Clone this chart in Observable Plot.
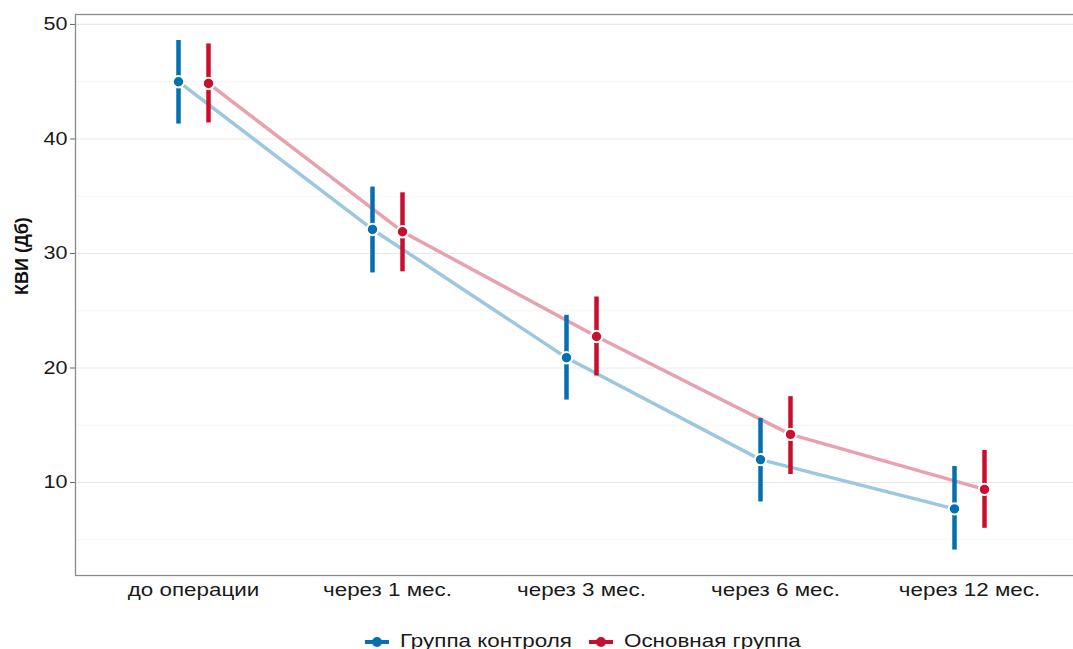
<!DOCTYPE html>
<html>
<head>
<meta charset="utf-8">
<script src="https://cdn.jsdelivr.net/npm/d3@7"></script>
<script src="https://cdn.jsdelivr.net/npm/@observablehq/plot@0.6"></script>
<style>
  html, body { margin: 0; padding: 0; background: #fff; }
  body { width: 1073px; height: 649px; overflow: hidden; font-family: "Liberation Sans", Arial, sans-serif; }
  #legend { display: flex; justify-content: center; align-items: center; height: 21px; margin-top: 3px; font-size: 17.5px; color: #1a1a1a; padding-left: 92px; }
  #legend .item { display: flex; align-items: center; }
  #legend svg { margin-right: 10px; }
  #legend span { display: inline-block; transform: scaleX(1.28); transform-origin: left center; white-space: nowrap; }
</style>
</head>
<body>
<div id="chart"></div>
<div id="legend"></div>
<script>
const categories = ["до операции", "через 1 мес.", "через 3 мес.", "через 6 мес.", "через 12 мес."];
const groups = ["Группа контроля", "Основная группа"];
const colors = ["#0570B0", "#C8102E"];
const lineColors = ["#9CC7E0", "#E8A1AE"];

const controlMean = [45.0, 32.1, 20.9, 12.0, 7.7];
const controlLow  = [41.3, 28.3, 17.2, 8.3, 4.1];
const controlHigh = [48.6, 35.8, 24.6, 15.6, 11.4];

const mainMean = [44.85, 31.9, 22.75, 14.2, 9.4];
const mainLow  = [41.4, 28.4, 19.3, 10.7, 6.0];
const mainHigh = [48.3, 35.3, 26.2, 17.5, 12.8];

const yTicks = [10, 20, 30, 40, 50];
const yMinor = [5, 15, 25, 35, 45];
const yLabel = "КВИ (Дб)";

const control = categories.map((c, i) => ({cat: c, mean: controlMean[i], lo: controlLow[i], hi: controlHigh[i]}));
const main = categories.map((c, i) => ({cat: c, mean: mainMean[i], lo: mainLow[i], hi: mainHigh[i]}));

function lineMarks(data, k, dx) {
  return [Plot.line(data, {x: "cat", y: "mean", dx, stroke: lineColors[k], strokeWidth: 3.5})];
}
function barMarks(data, k, dx) {
  return [
    Plot.ruleX(data, {x: "cat", y1: "lo", y2: "hi", dx, stroke: colors[k], strokeWidth: 4.5}),
    Plot.dot(data, {x: "cat", y: "mean", dx, r: 5.7, fill: colors[k], stroke: "white", strokeWidth: 2})
  ];
}

const chart = Plot.plot({
  width: 1073,
  height: 628,
  marginLeft: 75,
  marginRight: -14,
  marginTop: 14,
  marginBottom: 53,
  style: {fontFamily: "'Liberation Sans', Arial, sans-serif", color: "#1a1a1a", background: "white"},
  x: {type: "point", domain: categories, padding: 0.6},
  y: {domain: [1.88, 50.87]},
  marks: [
    Plot.ruleY(yMinor, {stroke: "#f4f4f4", strokeWidth: 1}),
    Plot.ruleY(yTicks, {stroke: "#e9e9e9", strokeWidth: 1.2}),
    Plot.frame({stroke: "#8a8a8a", strokeWidth: 1.3}),
    Plot.axisY({ticks: yTicks, tickSize: 5, tickPadding: 3, fontSize: 18, label: null, stroke: "#666"}),
    Plot.axisX({tickSize: 0, tickPadding: 8, fontSize: 17.5, label: null}),
    Plot.text([yLabel], {frameAnchor: "left", rotate: -90, dx: -53, fontWeight: "bold", fontSize: 18, fill: "#111"}),
    ...lineMarks(control, 0, -15),
    ...lineMarks(main, 1, 15),
    ...barMarks(control, 0, -15),
    ...barMarks(main, 1, 15)
  ]
});
document.getElementById("chart").appendChild(chart);

// horizontally stretched lettering, as in the reference (scale about each text's anchor)
function stretch(selector, s) {
  d3.select(chart).selectAll(selector).each(function() {
    let t = this.getAttribute("transform") || "";
    const x = this.getAttribute("x");
    if (x != null && isFinite(+x)) {
      t += ` translate(${+x},0)`;
      this.removeAttribute("x");
    }
    this.setAttribute("transform", `${t} scale(${s},1)`);
  });
}
stretch('g[aria-label^="x-axis"] text', 1.28);
stretch('g[aria-label^="y-axis"] text', 1.2);

const legend = document.getElementById("legend");
groups.forEach((g, k) => {
  const item = document.createElement("div");
  item.className = "item";
  item.innerHTML = `<svg width="26" height="12"><line x1="1" x2="25" y1="6" y2="6" stroke="${colors[k]}" stroke-width="4"/><circle cx="13" cy="6" r="5" fill="${colors[k]}"/></svg><span>${g}</span>`;
  legend.appendChild(item);
});
legend.querySelectorAll(".item").forEach((item, k) => {
  const span = item.querySelector("span");
  const w = span.offsetWidth;
  span.style.marginRight = (w * 0.28 + (k === 0 ? 16 : 0)) + "px";
});
</script>
</body>
</html>
